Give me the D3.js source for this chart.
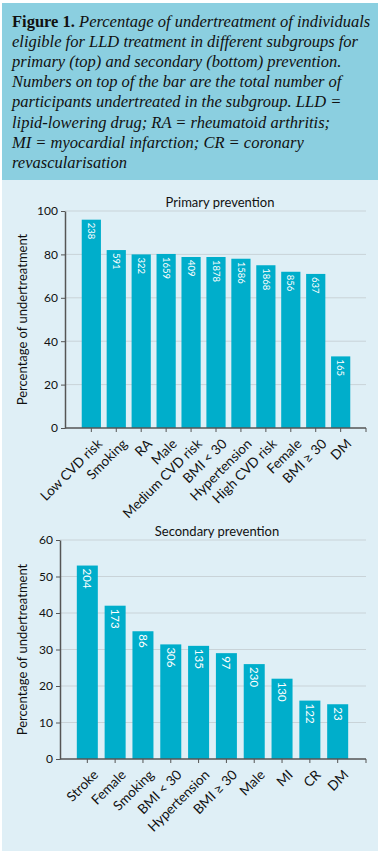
<!DOCTYPE html>
<html>
<head>
<meta charset="utf-8">
<script src="https://cdn.jsdelivr.net/npm/d3@7"></script>
<style>
  body { margin: 0; background: #fff; }
  svg { display: block; }
</style>
</head>
<body>
<div id="figure"></div>
<script>
// primary prevention data
const primary_groups = ["Low CVD risk", "Smoking", "RA", "Male", "Medium CVD risk", "BMI < 30",
  "Hypertension", "High CVD risk", "Female", "BMI \u2265 30", "DM"];
const primary_values = [96, 82, 80, 80.2, 78.8, 78.8, 78, 75, 72, 71, 33];
const primary_counts = ["238", "591", "322", "1659", "409", "1878", "1586", "1868", "856", "637", "165"];
const primary_ticks = [0, 20, 40, 60, 80, 100];

// secondary prevention data
const secondary_groups = ["Stroke", "Female", "Smoking", "BMI < 30", "Hypertension", "BMI \u2265 30",
  "Male", "MI", "CR", "DM"];
const secondary_values = [53, 42, 35, 31.4, 31, 29, 26, 22, 16, 15];
const secondary_counts = ["204", "173", "86", "306", "135", "97", "230", "130", "122", "23"];
const secondary_ticks = [0, 10, 20, 30, 40, 50, 60];

const caption_lines = [
  ["Figure 1. ", "Percentage of undertreatment of individuals"],
  ["", "eligible for LLD treatment in different subgroups for"],
  ["", "primary (top) and secondary (bottom) prevention."],
  ["", "Numbers on top of the bar are the total number of"],
  ["", "participants undertreated in the subgroup. LLD ="],
  ["", "lipid-lowering drug; RA = rheumatoid arthritis;"],
  ["", "MI = myocardial infarction; CR = coronary"],
  ["", "revascularisation"]
];

const width = 380;
const height = 854;
const bar_color = "#00aecb";
const font = "Lato, 'Open Sans', sans-serif";

const svg = d3.select("#figure")
  .append("svg")
  .attr("width", width)
  .attr("height", height);

// panel backgrounds
svg.append("rect")
  .attr("x", 2).attr("y", 3)
  .attr("width", 376).attr("height", 848)
  .attr("fill", "#dfeff6");
svg.append("rect")
  .attr("x", 2).attr("y", 3)
  .attr("width", 376).attr("height", 177)
  .attr("fill", "#8bcfe0");

// caption
const caption = svg.append("g");
caption_lines.forEach((line, i) => {
  const t = caption.append("text")
    .attr("x", 12)
    .attr("y", 27 + i * 20.1)
    .attr("font-family", "'Liberation Serif', 'DejaVu Serif', serif")
    .attr("font-size", "16.5px")
    .attr("fill", "#111");
  if (line[0]) {
    t.append("tspan").attr("font-weight", "bold").text(line[0]);
  }
  t.append("tspan").attr("font-style", "italic").text(line[1]);
});

function drawChart(opts) {
  const g = svg.append("g");

  const x = d3.scaleBand()
    .domain(opts.groups)
    .range(opts.xRange)
    .padding(opts.pad);

  const y = d3.scaleLinear()
    .domain([0, d3.max(opts.ticks)])
    .range([opts.y0, opts.y1]);

  // grid lines
  g.selectAll(".grid")
    .data(opts.ticks.slice(1))
    .enter()
    .append("line")
    .attr("x1", opts.axisX)
    .attr("x2", opts.axisEnd)
    .attr("y1", d => y(d))
    .attr("y2", d => y(d))
    .attr("stroke", "#c9d3d8")
    .attr("stroke-width", 1);

  // bars
  g.selectAll(".bar")
    .data(opts.values)
    .enter()
    .append("rect")
    .attr("x", (d, i) => x(opts.groups[i]))
    .attr("y", d => y(d))
    .attr("width", x.bandwidth())
    .attr("height", d => opts.y0 - y(d))
    .attr("fill", bar_color);

  // counts inside bars
  g.selectAll(".count")
    .data(opts.values)
    .enter()
    .append("text")
    .attr("transform", (d, i) =>
      "translate(" + (x(opts.groups[i]) + x.bandwidth() / 2) + "," + (y(d) + 3) + ") rotate(90)")
    .attr("dy", "0.35em")
    .attr("fill", "#fff")
    .attr("font-family", font)
    .attr("font-size", opts.countSize)
    .text((d, i) => opts.counts[i]);

  // y axis
  const yAxis = g.append("g")
    .attr("transform", "translate(" + opts.axisX + ",0)")
    .call(d3.axisLeft(y).tickValues(opts.ticks).tickSize(4).tickSizeOuter(0));
  yAxis.select(".domain").attr("stroke", "#555").attr("stroke-width", 1.5);
  yAxis.selectAll(".tick line").attr("stroke", "#555");
  yAxis.selectAll(".tick text")
    .attr("font-family", font)
    .attr("font-size", "12px")
    .attr("fill", "#111")
    .attr("x", -7);

  // x axis
  const xAxis = g.append("g")
    .attr("transform", "translate(0," + opts.y0 + ")");
  xAxis.append("line")
    .attr("x1", opts.axisX).attr("x2", opts.axisEnd)
    .attr("stroke", "#555").attr("stroke-width", 1.5);
  xAxis.selectAll(".xtick")
    .data(opts.groups)
    .enter()
    .append("line")
    .attr("x1", d => x(d) + x.bandwidth() / 2)
    .attr("x2", d => x(d) + x.bandwidth() / 2)
    .attr("y1", 0).attr("y2", 4)
    .attr("stroke", "#555");
  xAxis.append("line")
    .attr("x1", opts.axisEnd).attr("x2", opts.axisEnd)
    .attr("y1", 0).attr("y2", 4)
    .attr("stroke", "#555");
  xAxis.selectAll(".xlabel")
    .data(opts.groups)
    .enter()
    .append("text")
    .attr("transform", d =>
      "translate(" + (x(d) + x.bandwidth() / 2 + 5) + ",10) rotate(-45)")
    .attr("text-anchor", "end")
    .attr("dy", "0.7em")
    .attr("font-family", font)
    .attr("font-size", "13.5px")
    .attr("fill", "#111")
    .text(d => d);

  // title
  g.append("text")
    .attr("x", opts.titleX)
    .attr("y", opts.titleY)
    .attr("text-anchor", "middle")
    .attr("font-family", font)
    .attr("font-size", "13px")
    .attr("fill", "#111")
    .text(opts.title);

  // y axis label
  g.append("text")
    .attr("transform", "translate(27," + (opts.y0 + opts.y1) / 2 + ") rotate(-90)")
    .attr("text-anchor", "middle")
    .attr("font-family", font)
    .attr("font-size", "13px")
    .attr("fill", "#111")
    .text("Percentage of undertreatment");
}

drawChart({
  groups: primary_groups,
  values: primary_values,
  counts: primary_counts,
  ticks: primary_ticks,
  xRange: [76, 356],
  pad: 0.23,
  y0: 428,
  y1: 211,
  axisX: 65,
  axisEnd: 366,
  countSize: "9.5px",
  title: "Primary prevention",
  titleX: 220,
  titleY: 207
});

drawChart({
  groups: secondary_groups,
  values: secondary_values,
  counts: secondary_counts,
  ticks: secondary_ticks,
  xRange: [70, 355],
  pad: 0.245,
  y0: 759,
  y1: 540,
  axisX: 60,
  axisEnd: 366,
  countSize: "11.5px",
  title: "Secondary prevention",
  titleX: 217,
  titleY: 536
});
</script>
</body>
</html>
